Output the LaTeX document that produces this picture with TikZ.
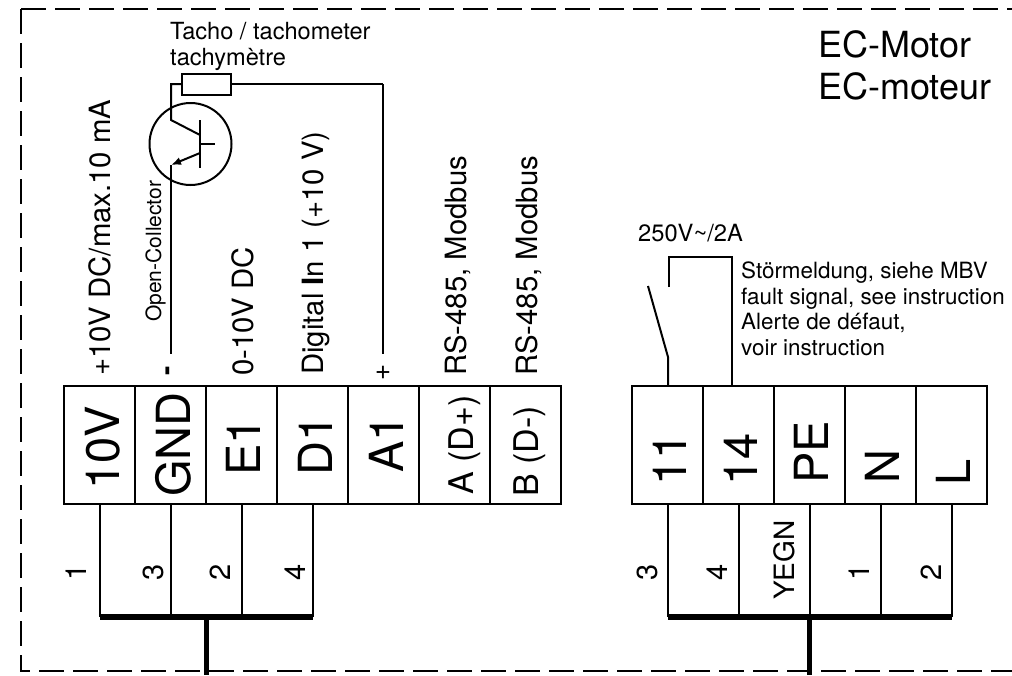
\documentclass[tikz,border=0pt]{standalone}
\usepackage{fontspec}
\setmainfont{TeX Gyre Heros}
\usetikzlibrary{positioning,arrows.meta}
\tikzset{
  termbox/.style={draw, line width=2.2pt, minimum width=71pt, minimum height=118pt, inner sep=0pt, outer sep=0pt},
  termtext/.style={rotate=90, anchor=base west, inner sep=0pt, font=\fontsize{47}{47}\selectfont},
  sigtext/.style={rotate=90, anchor=base west, inner sep=0pt, font=\fontsize{29.3}{30}\selectfont},
  wiretext/.style={rotate=90, anchor=base, inner sep=0pt, font=\fontsize{29}{30}\selectfont},
  wire/.style={line width=2pt},
  bus/.style={line width=6pt},
  stem/.style={line width=5pt},
  border/.style={line width=2.5pt, dash pattern=on 25pt off 9pt},
}
\begin{document}
\begin{tikzpicture}[x=1pt, y=-1pt]
\useasboundingbox (0,0) rectangle (1012,675);
% frame
\coordinate (corner) at (21,9);
\coordinate (topend) at (1012,9);
\coordinate (botleft) at (21,671);
\coordinate (botend) at (1012,671);
\draw[border] (corner) -- (topend);
\draw[border] (corner) -- (botleft) -- (botend);
\node[anchor=north west, inner sep=0pt, align=left, font=\fontsize{36}{42}\selectfont] (title) at (818,30) {EC-Motor\\EC-moteur};
% terminals left
\node[termbox, anchor=north west] (t10V) at (64,386) {};
\node[termbox, right=0pt of t10V] (tGND) {};
\node[termbox, right=0pt of tGND] (tE1) {};
\node[termbox, right=0pt of tE1] (tD1) {};
\node[termbox, right=0pt of tD1] (tA1) {};
\node[termbox, right=0pt of tA1] (tA) {};
\node[termbox, right=0pt of tA] (tB) {};
\node[termtext] (l10V) at (119,490) {10V};
\node[termtext] (lGND) at (190,497) {GND};
\node[termtext] (lE1) at (260,476) {E1};
\node[termtext] (lD1) at (332,476) {D1};
\node[termtext] (lA1) at (403,473) {A1};
\node[termtext, font=\fontsize{34}{34}\selectfont] (lA) at (473,495) {A (D+)};
\node[termtext, font=\fontsize{34}{34}\selectfont] (lB) at (538,497) {B (D-)};
% terminals right
\node[termbox, anchor=north west] (t11) at (632,386) {};
\node[termbox, right=0pt of t11] (t14) {};
\node[termbox, right=0pt of t14] (tPE) {};
\node[termbox, right=0pt of tPE] (tN) {};
\node[termbox, right=0pt of tN] (tL) {};
\node[termtext] (l11) at (686,486) {11};
\node[termtext] (l14) at (757,486) {14};
\node[termtext] (lPE) at (828,484) {PE};
\node[termtext] (lN) at (899,484) {N};
\node[termtext] (lL) at (970,486) {L};
% signal texts
\node[sigtext] (s10V) at (110,376) {+10V DC/max.10 mA};
\node[sigtext, font=\fontsize{21}{22}\selectfont] (sOC) at (161,322) {Open-Collector};
\node[sigtext] (sE1) at (253,376) {0-10V DC};
\node[sigtext] (sD1) at (323,375) {Digital {\bfseries I}n 1 (+10 V)};
\node[sigtext] (sA) at (466,376) {RS-485, Modbus};
\node[sigtext] (sB) at (537,376) {RS-485, Modbus};
\node[rotate=90, inner sep=0pt, font=\bfseries\fontsize{28}{28}\selectfont] (minus) at (171,371) {-};
\node[inner sep=0pt, font=\fontsize{28}{28}\selectfont] (plus) at (383,373) {+};
% tacho
\node[anchor=north west, inner sep=0pt, align=left, font=\fontsize{23.6}{26}\selectfont] (tachotext) at (170,22) {Tacho / tachometer\\tachymètre};
\node[draw, line width=2pt, minimum width=49pt, minimum height=21pt, inner sep=0pt, outer sep=0pt] (res) at (206.5,84) {};
\node[draw, circle, line width=2pt, minimum size=82pt, inner sep=0pt] (tacho) at (190.5,144) {};
\coordinate (base) at (200,144);
\coordinate (baseend) at (215,144);
\coordinate (basetop) at (200,120);
\coordinate (basebot) at (200,168);
\coordinate (coll) at (171,120);
\coordinate (collup) at (171,84);
\coordinate (collend) at (200,135);
\coordinate (emit) at (200,153);
\coordinate (emitend) at (171,165);
\coordinate (gndend) at (171,354);
\coordinate (corner2) at (383,84);
\coordinate (plusend) at (383,354);
\draw[wire] (res.west) -- (collup) -- (coll) -- (collend);
\draw[wire] (basetop) -- (basebot);
\draw[wire] (base) -- (baseend);
\draw[wire, -{Latex[length=10pt,width=8pt]}] (emit) -- (emitend);
\draw[wire] (emitend) -- (gndend);
\draw[wire] (res.east) -- (corner2);
\draw[line width=2.5pt] (corner2) -- (plusend);
% cable left
\coordinate (busL) at (0,617);
\coordinate (exitL) at (206,675);
\draw[wire] (t10V.south) -- (t10V.south |- busL);
\draw[wire] (tGND.south) -- (tGND.south |- busL);
\draw[wire] (tE1.south) -- (tE1.south |- busL);
\draw[wire] (tD1.south) -- (tD1.south |- busL);
\draw[bus] (t10V.south |- busL) -- (tD1.south |- busL);
\draw[stem] (exitL |- busL) -- (exitL);
\node[wiretext] (w1) at (86,572) {1};
\node[wiretext] (w3) at (163,572) {3};
\node[wiretext] (w2) at (230,572) {2};
\node[wiretext] (w4) at (305,572) {4};
% cable right
\coordinate (busR) at (0,617);
\coordinate (exitR) at (809,675);
\draw[wire] (t11.south) -- (t11.south |- busR);
\draw[wire] (t14.south) -- (t14.south |- busR);
\draw[wire] (tPE.south) -- (tPE.south |- busR);
\draw[wire] (tN.south) -- (tN.south |- busR);
\draw[wire] (tL.south) -- (tL.south |- busR);
\draw[bus] (t11.south |- busR) -- (tL.south |- busR);
\draw[stem] (exitR |- busR) -- (exitR);
\node[wiretext] (r3) at (657,572) {3};
\node[wiretext] (r4) at (727,572) {4};
\node[wiretext, font=\fontsize{28}{30}\selectfont] (rYE) at (794,560) {YEGN};
\node[wiretext] (r1) at (869,572) {1};
\node[wiretext] (r2) at (941,572) {2};
% relay
\coordinate (hinge) at (668,357);
\coordinate (blade) at (648,286);
\coordinate (contact) at (669,287);
\coordinate (ctop) at (669,257);
\coordinate (ctopr) at (732,257);
\coordinate (cdown) at (732,386);
\draw[wire] (hinge |- t11.north) -- (hinge) -- (blade);
\draw[wire] (contact) -- (ctop) -- (ctopr) -- (cdown);
\node[anchor=base west, inner sep=0pt, font=\fontsize{23.7}{24}\selectfont] (rating) at (638,241) {250V\textasciitilde/2A};
\node[anchor=north west, inner sep=0pt, align=left, font=\fontsize{22.4}{25.5}\selectfont] (fault) at (741,262) {Störmeldung, siehe MBV\\fault signal, see instruction\\Alerte de défaut,\\voir instruction};
\end{tikzpicture}
\end{document}
